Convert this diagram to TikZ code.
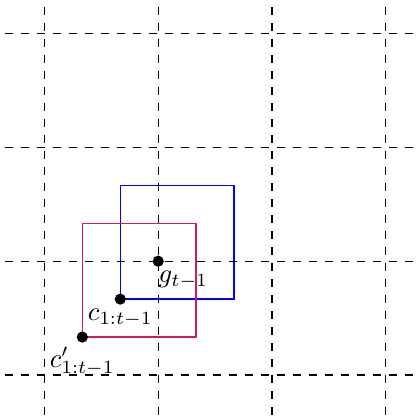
\documentclass[tikz,border=0pt]{standalone}
\usepackage{tikz}
\definecolor{boxpink}{RGB}{215,25,95}
\begin{document}
\begin{tikzpicture}[x=1.5cm,y=1.5cm,
  gridline/.style={dashed,line width=0.4pt},
  boxline/.style={line width=0.5pt},
  dot/.style={circle,fill=black,inner sep=0pt,minimum size=4.2pt},
  lbl/.style={inner sep=3.6pt}]
\useasboundingbox (-0.39,-0.39) rectangle (3.30,3.295);
\foreach \i in {0,1,2,3}{
  \draw[gridline] (-0.35,\i) -- (3.25,\i);
  \draw[gridline] (\i,-0.35) -- (\i,3.25);
}
\coordinate (g0) at (1,1);
\coordinate (c0) at (2/3,2/3);
\coordinate (cp0) at (1/3,1/3);
\draw[boxline,blue] (c0) rectangle ++(1,1);
\draw[boxline,boxpink] (cp0) rectangle ++(1,1);
\node[dot] (g) at (g0) {};
\node[dot] (c) at (c0) {};
\node[dot] (cp) at (cp0) {};
\node[lbl,anchor=north west,inner xsep=0pt] (gl) at (g.center) {$g_{t-1}$};
\node[lbl,anchor=north] (cl) at (c.center) {$c_{1:t-1}$};
\node[lbl,anchor=north] (cpl) at (cp.center) {$c'_{1:t-1}$};
\end{tikzpicture}
\end{document}
